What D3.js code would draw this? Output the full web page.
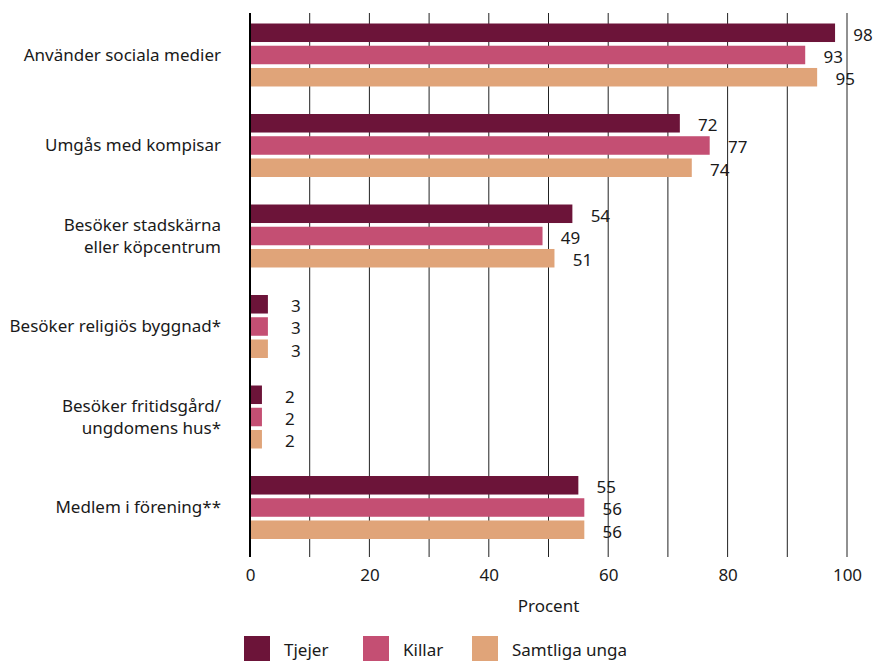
<!DOCTYPE html>
<html><head><meta charset="utf-8">
<script src="https://cdn.jsdelivr.net/npm/d3@7"></script>
<style>
html,body{margin:0;padding:0;background:#fff;}
text{font-family:"Noto Sans","Open Sans",sans-serif;fill:#1a1a1a;}
</style></head>
<body>
<svg id="chart" width="874" height="662"></svg>
<script>
const categories = [
  ["Använder sociala medier"],
  ["Umgås med kompisar"],
  ["Besöker stadskärna", "eller köpcentrum"],
  ["Besöker religiös byggnad*"],
  ["Besöker fritidsgård/", "ungdomens hus*"],
  ["Medlem i förening**"]
];
const seriesNames = ["Tjejer", "Killar", "Samtliga unga"];
const tjejer   = [98, 72, 54, 3, 2, 55];
const killar   = [93, 77, 49, 3, 2, 56];
const samtliga = [95, 74, 51, 3, 2, 56];
const xTicks = [0, 20, 40, 60, 80, 100];
const gridTicks = [0,10,20,30,40,50,60,70,80,90,100];
const colors = ["#6c1439", "#c44f73", "#e0a479"];
const axisTitle = "Procent";

const values = [tjejer, killar, samtliga];
const catKeys = categories.map((c, i) => i);

const svg = d3.select("#chart");
const x = d3.scaleLinear().domain([0, 100]).range([250, 847]);
const y0 = d3.scaleBand().domain(catKeys).range([23.5, 539]).paddingInner(0.304).paddingOuter(0);
const y1 = d3.scaleBand().domain(seriesNames).range([0, y0.bandwidth()]).paddingInner(0.167);

const gridTop = 13, gridBottom = 557;

// gridlines
svg.append("g").selectAll("line").data(gridTicks.filter(d => d > 0)).join("line")
  .attr("x1", d => x(d)).attr("x2", d => x(d))
  .attr("y1", gridTop).attr("y2", gridBottom)
  .attr("stroke", "#222").attr("stroke-width", 1);

// bars
const groups = svg.append("g").selectAll("g").data(catKeys).join("g")
  .attr("transform", d => `translate(0,${y0(d)})`);

groups.selectAll("rect").data(i => seriesNames.map((s, k) => ({s, k, v: values[k][i]}))).join("rect")
  .attr("x", x(0))
  .attr("y", d => y1(d.s))
  .attr("width", d => x(d.v) - x(0))
  .attr("height", y1.bandwidth())
  .attr("fill", d => colors[d.k]);

groups.selectAll("text.val").data(i => seriesNames.map((s, k) => ({s, k, v: values[k][i]}))).join("text")
  .attr("class", "val")
  .attr("x", d => x(d.v) + 28)
  .attr("y", d => y1(d.s) + y1.bandwidth() / 2 + 2)
  .attr("dy", "0.35em")
  .attr("text-anchor", "middle")
  .attr("font-size", 17)
  .text(d => d.v);

// left axis line
svg.append("line")
  .attr("x1", x(0)).attr("x2", x(0))
  .attr("y1", gridTop).attr("y2", gridBottom)
  .attr("stroke", "#000").attr("stroke-width", 2);

// category labels
const catLab = svg.append("g").selectAll("text").data(catKeys).join("text")
  .attr("text-anchor", "end")
  .attr("font-size", 17)
  .attr("transform", d => `translate(221,${y0(d) + y0.bandwidth() / 2})`);
catLab.each(function(d) {
  const lines = categories[d];
  const lh = 22;
  const off = -(lines.length - 1) * lh / 2;
  d3.select(this).selectAll("tspan").data(lines).join("tspan")
    .attr("x", 0)
    .attr("y", (l, j) => off + j * lh)
    .attr("dy", "0.35em")
    .text(l => l);
});

// x axis labels
const xAxis = d3.axisBottom(x).tickValues(xTicks).tickSize(0).tickPadding(0).tickFormat(d3.format("d"));
const ax = svg.append("g").attr("transform", `translate(0,${gridBottom + 12})`).call(xAxis);
ax.select(".domain").remove();
ax.selectAll("text").attr("font-size", 17).attr("font-family", '"Noto Sans","Open Sans",sans-serif').attr("fill", "#1a1a1a").attr("dy", "0.71em");

svg.append("text")
  .attr("x", (x(0) + x(100)) / 2)
  .attr("y", 612)
  .attr("text-anchor", "middle")
  .attr("font-size", 17)
  .text(axisTitle);

// legend
const legendX = [244, 363, 472];
const lg = svg.append("g").selectAll("g").data(seriesNames).join("g")
  .attr("transform", (d, i) => `translate(${legendX[i]},636)`);
lg.append("rect").attr("width", 26).attr("height", 25).attr("fill", (d, i) => colors[i]);
lg.append("text").attr("x", 40).attr("y", 20).attr("font-size", 17).text(d => d);
</script>
</body></html>
